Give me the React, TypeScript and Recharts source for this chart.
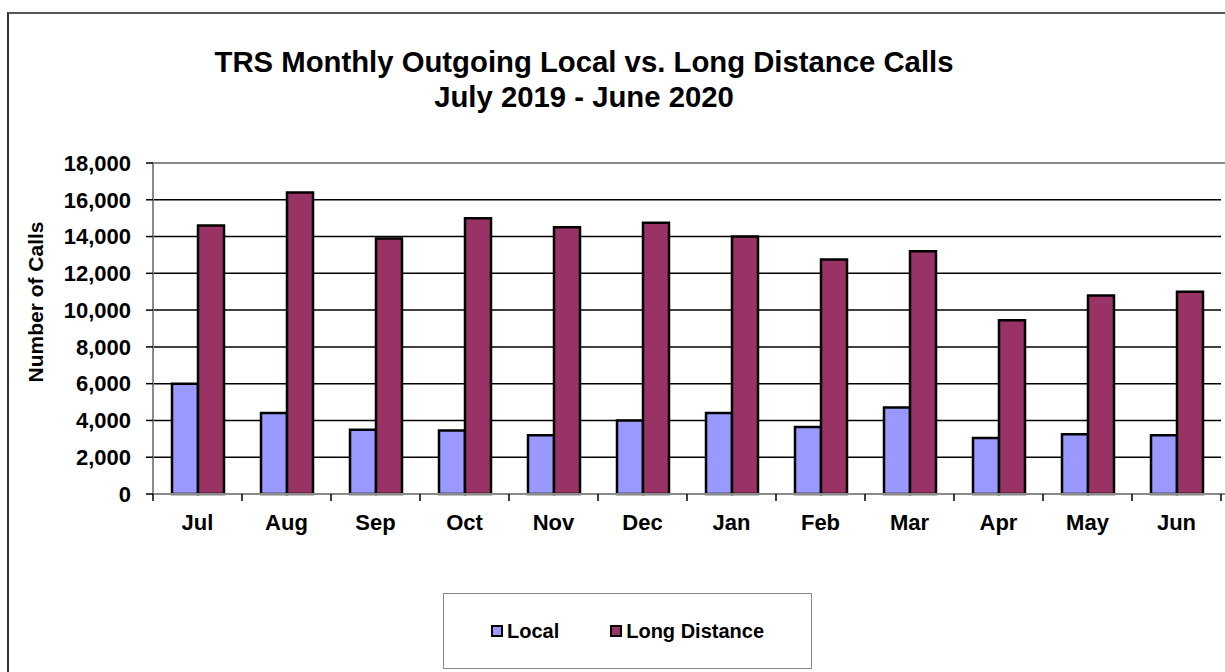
import { Bar, BarChart, CartesianGrid, ReferenceArea, XAxis, YAxis } from 'recharts'

const months = ['Jul', 'Aug', 'Sep', 'Oct', 'Nov', 'Dec', 'Jan', 'Feb', 'Mar', 'Apr', 'May', 'Jun']
const localCalls = [6000, 4400, 3500, 3450, 3200, 4000, 4400, 3650, 4700, 3050, 3250, 3200]
const longDistanceCalls = [14600, 16400, 13900, 15000, 14500, 14750, 14000, 12750, 13200, 9450, 10800, 11000]
const yTicks = [0, 2000, 4000, 6000, 8000, 10000, 12000, 14000, 16000, 18000]

const data = months.map((m, i) => ({ month: m, local: localCalls[i], longDistance: longDistanceCalls[i] }))

const FONT = 'Arial, "Liberation Sans", sans-serif'
const LOCAL = '#9999FF'
const LONG = '#993366'

// month label centred in the band, tick marks on the band edges
const MonthTick = ({ x, y, payload, index }: any) => {
  const half = payload.offset || 0
  return (
    <g>
      <line x1={x - half} x2={x - half} y1={y} y2={y + 7} stroke="#000" strokeWidth={1.5} />
      {index === months.length - 1 && <line x1={x + half} x2={x + half} y1={y} y2={y + 7} stroke="#000" strokeWidth={1.5} />}
      <text x={x} y={y + 36} textAnchor="middle" fontSize={22} fontWeight="bold" fill="#000" fontFamily={FONT}>
        {payload.value}
      </text>
    </g>
  )
}

export default function App() {
  return (
    <div style={{ position: 'absolute', left: 0, top: 0, width: 1225, height: 672, overflow: 'hidden', background: '#fff', fontFamily: FONT }}>
      <div style={{ position: 'absolute', left: 7, top: 12, width: 1400, height: 800, borderLeft: '2px solid #333', borderTop: '2px solid #555' }} />

      <div style={{ position: 'absolute', left: 0, top: 44, width: 1168, textAlign: 'center', fontSize: 29.3, fontWeight: 'bold', lineHeight: '35px', color: '#000' }}>
        TRS Monthly Outgoing Local vs. Long Distance Calls
        <br />
        July 2019 - June 2020
      </div>

      <div style={{ position: 'absolute', left: 36, top: 302, transform: 'translate(-50%, -50%) rotate(-90deg)', whiteSpace: 'nowrap', fontSize: 21, fontWeight: 'bold', color: '#000' }}>
        Number of Calls
      </div>

      <div style={{ position: 'absolute', left: 0, top: 0 }}>
        <BarChart
          width={1225}
          height={672}
          data={data}
          margin={{ top: 163, right: 4, bottom: 138, left: 0 }}
          barCategoryGap={19}
          barGap={0}
        >
          <CartesianGrid vertical={false} stroke="#000" strokeWidth={1.5} />
          <XAxis xAxisId="edge" type="number" domain={[0, 12]} allowDataOverflow hide />
          <ReferenceArea xAxisId="edge" x1={0} x2={12} y1={0} y2={18000} stroke="#8a8a8a" strokeWidth={2} fill="none" ifOverflow="visible" />
          <XAxis
            dataKey="month"
            axisLine={{ stroke: '#8a8a8a', strokeWidth: 2 }}
            tickLine={false}
            tickSize={0}
            tickMargin={0}
            height={40}
            interval={0}
            tick={<MonthTick />}
          />
          <YAxis
            domain={[0, 18000]}
            ticks={yTicks}
            interval={0}
            width={153}
            tickSize={7}
            tickMargin={15}
            axisLine={{ stroke: '#8a8a8a', strokeWidth: 2 }}
            tickLine={{ stroke: '#000', strokeWidth: 1.5 }}
            tick={{ fontSize: 22, fontWeight: 'bold', fill: '#000', fontFamily: FONT }}
            tickFormatter={(v: number) => v.toLocaleString('en-US')}
          />
          <Bar dataKey="local" name="Local" fill={LOCAL} stroke="#000" strokeWidth={2.5} isAnimationActive={false} />
          <Bar dataKey="longDistance" name="Long Distance" fill={LONG} stroke="#000" strokeWidth={2.5} isAnimationActive={false} />
        </BarChart>
      </div>

      <div style={{ position: 'absolute', left: 443, top: 593, width: 367, height: 74, border: '1px solid #888', display: 'flex', alignItems: 'center', justifyContent: 'center', gap: 51, fontSize: 20, fontWeight: 'bold', color: '#000' }}>
        {[{ label: 'Local', color: LOCAL }, { label: 'Long Distance', color: LONG }].map((item) => (
          <div key={item.label} style={{ display: 'flex', alignItems: 'center', gap: 4 }}>
            <span style={{ display: 'inline-block', width: 8, height: 8, background: item.color, border: '2px solid #000' }} />
            <span>{item.label}</span>
          </div>
        ))}
      </div>
    </div>
  )
}
